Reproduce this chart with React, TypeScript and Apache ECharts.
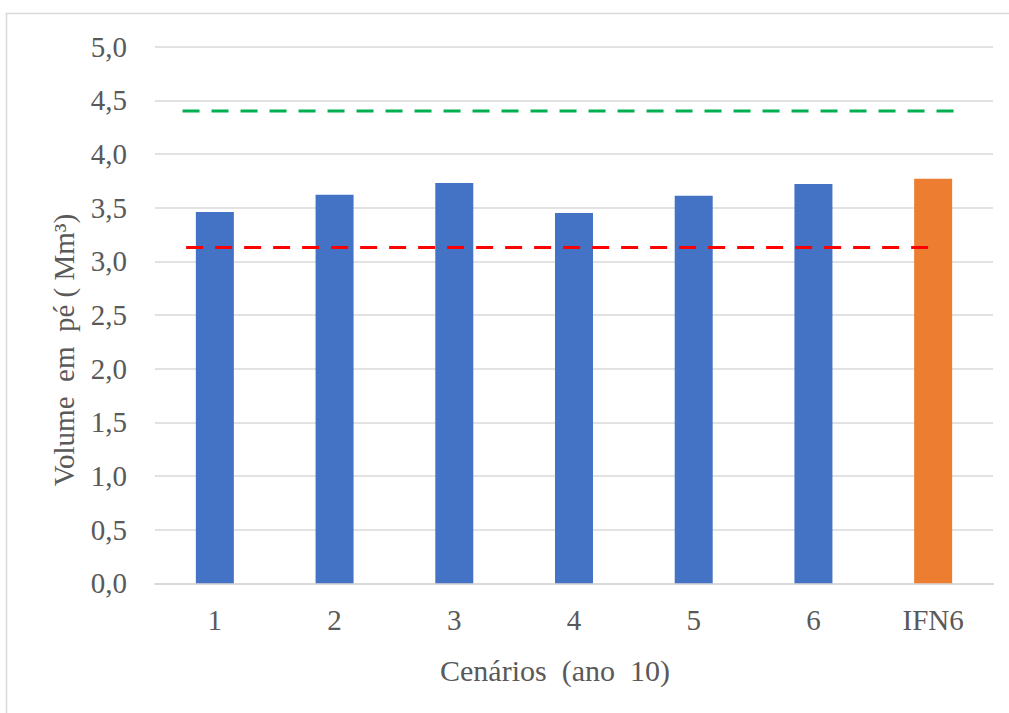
import React, { useEffect, useRef } from "react";
import * as echarts from "echarts";

const categories = ["1", "2", "3", "4", "5", "6", "IFN6"];
const volumes = [3.46, 3.62, 3.73, 3.45, 3.61, 3.72, 3.77];
const barColors = ["#4472C4", "#4472C4", "#4472C4", "#4472C4", "#4472C4", "#4472C4", "#ED7D31"];
const greenRef = [[0.23, 4.4], [6.69, 4.4]];
const redRef = [[0.26, 3.13], [6.46, 3.13]];
const yTitle = "Volume  em  pé ( Mm³)";
const xTitle = "Cenários  (ano  10)";

const FONT = "'Liberation Serif', 'Times New Roman', serif";

export default function App() {
  const ref = useRef<HTMLDivElement>(null);
  useEffect(() => {
    const chart = echarts.init(ref.current!, null, { renderer: "svg" });
    chart.setOption({
      animation: false,
      backgroundColor: "#ffffff",
      grid: { left: 155, right: 16, top: 46.7, bottom: 129.7, containLabel: false },
      xAxis: [
        {
          type: "category",
          data: categories,
          axisLine: { lineStyle: { color: "#D9D9D9", width: 2 } },
          axisTick: { show: false },
          axisLabel: { color: "#595959", fontFamily: FONT, fontSize: 29, margin: 22 },
        },
        { type: "value", min: 0, max: 7, show: false },
      ],
      yAxis: {
        type: "value",
        min: 0,
        max: 5,
        interval: 0.5,
        axisLine: { show: false },
        axisTick: { show: false },
        splitLine: { lineStyle: { color: "#D9D9D9", width: 1.5 } },
        axisLabel: {
          color: "#595959",
          fontFamily: FONT,
          fontSize: 29,
          margin: 28,
          formatter: (v: number) => v.toFixed(1).replace(".", ","),
        },
      },
      series: [
        {
          type: "bar",
          barWidth: 38,
          data: volumes.map((v, i) => ({ value: v, itemStyle: { color: barColors[i] } })),
        },
        {
          type: "line",
          xAxisIndex: 1,
          data: greenRef,
          symbol: "none",
          lineStyle: { color: "#00B050", width: 3, type: [17, 12] },
        },
        {
          type: "line",
          xAxisIndex: 1,
          data: redRef,
          symbol: "none",
          lineStyle: { color: "#FF0000", width: 3, type: [17, 12] },
        },
      ],
      graphic: [
        {
          type: "rect",
          shape: { x: 6.5, y: 13.5, width: 1100, height: 800 },
          style: { fill: "none", stroke: "#D9D9D9", lineWidth: 1.5 },
          silent: true,
        },
        {
          type: "text",
          x: 555,
          y: 670,
          style: {
            text: xTitle,
            fill: "#595959",
            font: `30px ${FONT}`,
            align: "center",
            verticalAlign: "middle",
          },
        },
        {
          type: "text",
          x: 64,
          y: 350,
          rotation: Math.PI / 2,
          style: {
            text: yTitle,
            fill: "#595959",
            font: `29px ${FONT}`,
            align: "center",
            verticalAlign: "middle",
          },
        },
      ],
    });
    return () => chart.dispose();
  }, []);
  return (
    <div
      ref={ref}
      style={{ position: "absolute", left: 0, top: 0, width: 1009, height: 713 }}
    />
  );
}
